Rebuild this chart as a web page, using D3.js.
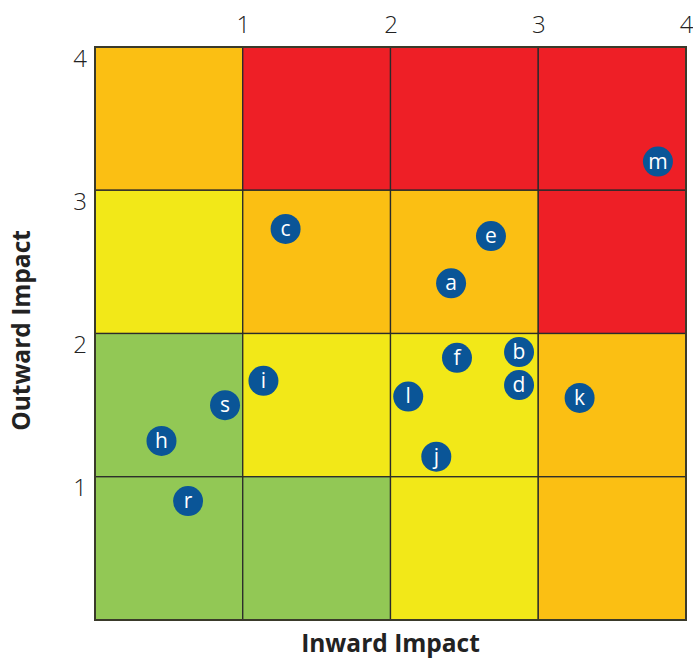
<!DOCTYPE html>
<html>
<head>
<meta charset="utf-8">
<script src="https://cdn.jsdelivr.net/npm/d3@7"></script>
<style>
  body { margin: 0; background: #fff; }
  svg { display: block; }
</style>
</head>
<body>
<svg></svg>
<script>
// risk matrix data
const tickValues = [1, 2, 3, 4];
const xTitle = 'Inward Impact';
const yTitle = 'Outward Impact';

// cell colours, row by row from the top (y 3-4 down to 0-1)
const cellRows = [
  ['orange', 'red', 'red', 'red'],
  ['yellow', 'orange', 'orange', 'red'],
  ['green', 'yellow', 'yellow', 'orange'],
  ['green', 'green', 'yellow', 'orange']
];
const palette = { green: '#92c855', yellow: '#f2e818', orange: '#fbbf13', red: '#ee1f26' };

const labels = ['c', 'e', 'a', 'm', 'f', 'b', 'd', 'l', 'j', 'k', 'i', 's', 'h', 'r'];
const inward = [1.29, 2.68, 2.41, 3.81, 2.45, 2.87, 2.87, 2.12, 2.31, 3.28, 1.14, 0.88, 0.45, 0.63];
const outward = [2.73, 2.68, 2.35, 3.20, 1.83, 1.87, 1.64, 1.56, 1.14, 1.55, 1.67, 1.50, 1.25, 0.83];

const w = 693;
const h = 658;
const mLeft = 95, mRight = 686, mTop = 47, mBottom = 620;

let svg = d3.select('svg').attr('width', w).attr('height', h);

let xScale = d3.scaleLinear().domain([0, 4]).range([mLeft, mRight]);
let yScale = d3.scaleLinear().domain([0, 4]).range([mBottom, mTop]);

// cells
let cells = [];
cellRows.forEach((row, r) => {
  row.forEach((c, i) => {
    cells.push({ x0: i, y0: 3 - r, colour: palette[c] });
  });
});

svg.append('g')
   .selectAll('rect')
   .data(cells)
   .enter()
   .append('rect')
   .attr('x', d => xScale(d.x0))
   .attr('y', d => yScale(d.y0 + 1))
   .attr('width', d => xScale(d.x0 + 1) - xScale(d.x0))
   .attr('height', d => yScale(d.y0) - yScale(d.y0 + 1))
   .attr('fill', d => d.colour)
   .attr('stroke', '#2b2b2b')
   .attr('stroke-width', 1.3);

// outer frame
svg.append('rect')
   .attr('x', mLeft).attr('y', mTop)
   .attr('width', mRight - mLeft).attr('height', mBottom - mTop)
   .attr('fill', 'none')
   .attr('stroke', '#3a3a2a')
   .attr('stroke-width', 2);

// axes
let xAxis = d3.axisTop(xScale).tickValues(tickValues).tickFormat(d3.format('d')).tickSize(0).tickPadding(0);
let gx = svg.append('g')
   .attr('transform', `translate(0, 33)`)
   .call(xAxis);
gx.select('.domain').remove();
gx.selectAll('text')
  .attr('font-family', '"Open Sans", sans-serif')
  .attr('font-weight', 300)
  .attr('font-size', 24)
  .attr('fill', '#222')
  .attr('dy', 0);

let yAxis = d3.axisLeft(yScale).tickValues(tickValues).tickFormat(d3.format('d')).tickSize(0).tickPadding(8);
let gy = svg.append('g')
   .attr('transform', `translate(${mLeft}, 0)`)
   .call(yAxis);
gy.select('.domain').remove();
gy.selectAll('text')
  .attr('font-family', '"Open Sans", sans-serif')
  .attr('font-weight', 300)
  .attr('font-size', 24)
  .attr('fill', '#222')
  .attr('dy', 19);

// points
let pts = labels.map((l, i) => ({ label: l, x: inward[i], y: outward[i] }));
let pg = svg.append('g')
   .selectAll('g')
   .data(pts)
   .enter()
   .append('g')
   .attr('transform', d => `translate(${xScale(d.x)}, ${yScale(d.y)})`);
pg.append('circle')
  .attr('r', 15)
  .attr('fill', '#0a5597');
pg.append('text')
  .text(d => d.label)
  .attr('text-anchor', 'middle')
  .attr('dy', '0.33em')
  .attr('font-family', '"Open Sans", sans-serif')
  .attr('font-size', 21)
  .attr('fill', '#fff');

// titles
svg.append('text')
   .text(xTitle)
   .attr('x', (mLeft + mRight) / 2)
   .attr('y', 652)
   .attr('text-anchor', 'middle')
   .attr('font-family', '"Open Sans", sans-serif')
   .attr('font-weight', 'bold')
   .attr('font-size', 24.5)
   .attr('fill', '#222');

svg.append('text')
   .text(yTitle)
   .attr('transform', `translate(30, ${(mTop + mBottom) / 2 - 3}) rotate(-90)`)
   .attr('text-anchor', 'middle')
   .attr('font-family', '"Open Sans", sans-serif')
   .attr('font-weight', 'bold')
   .attr('font-size', 24.5)
   .attr('fill', '#222');
</script>
</body>
</html>
